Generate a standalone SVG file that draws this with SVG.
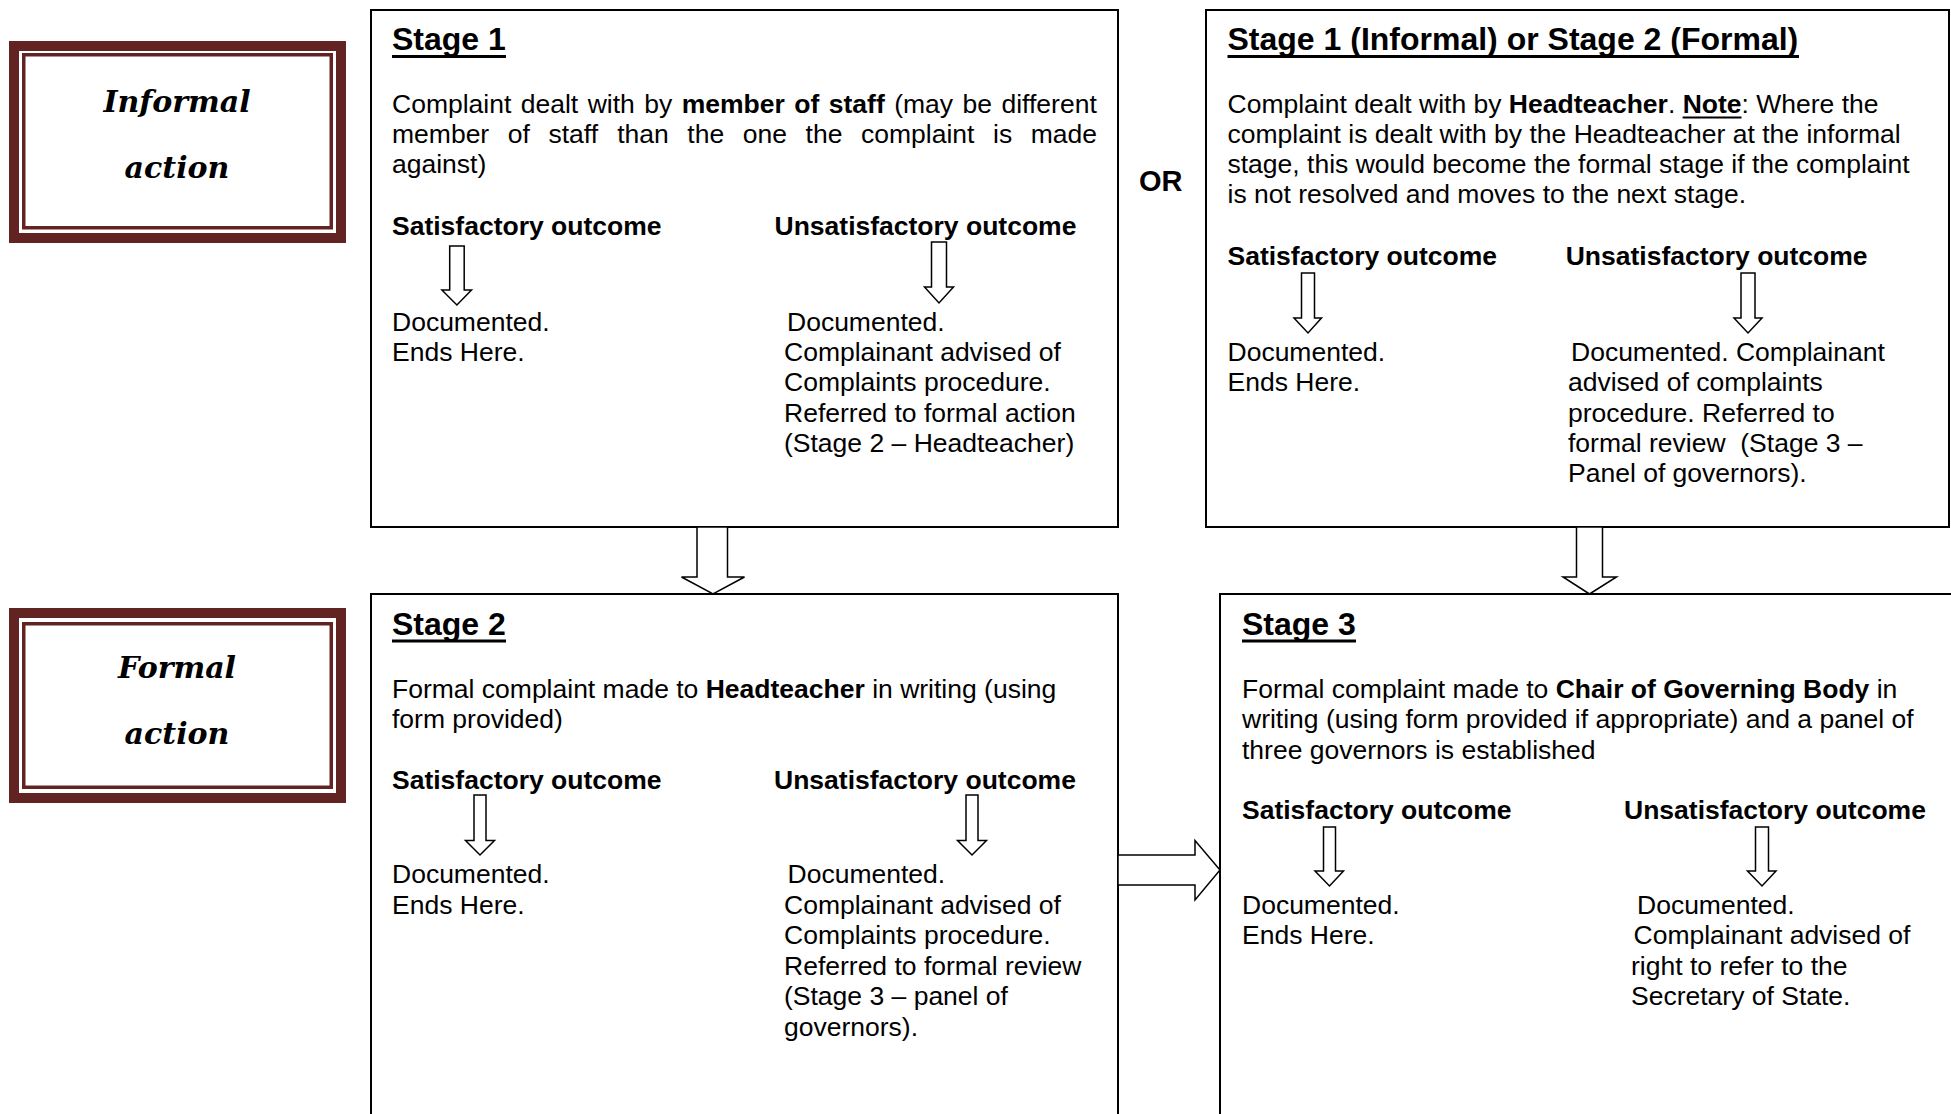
<svg xmlns="http://www.w3.org/2000/svg" width="1951" height="1114" viewBox="0 0 1951 1114">
<style>
.bg{fill:#fff}
.box{fill:#fff;stroke:#000;stroke-width:2}
.t{font-family:"Liberation Sans",Arial,sans-serif;font-size:26.5px;fill:#000}
.b{font-weight:bold}
.title{font-family:"Liberation Sans",Arial,sans-serif;font-size:32px;font-weight:bold;fill:#000}
.ul{stroke:#000;stroke-width:3}
.ul2{stroke:#000;stroke-width:2}
.arr{fill:#fff;stroke:#000;stroke-width:1.5;stroke-linejoin:miter}
.fo{fill:#fff;stroke:#622423;stroke-width:10}
.fi{fill:none;stroke:#622423;stroke-width:3.5}
.lbl{font-family:"DejaVu Serif",serif;font-style:italic;font-weight:bold;font-size:30px;text-anchor:middle;fill:#000}
</style>
<rect class="bg" x="0" y="0" width="1951" height="1114"/>

<g id="informal-action">
  <rect class="fo" x="14" y="46" width="327" height="192"/>
  <rect class="fi" x="23.75" y="54.75" width="307.5" height="173"/>
  <text class="lbl" x="177" y="112">Informal</text>
  <text class="lbl" x="177" y="178">action</text>
</g>

<g id="formal-action">
  <rect class="fo" x="14" y="613" width="327" height="185"/>
  <rect class="fi" x="23.75" y="623.75" width="307.5" height="163.5"/>
  <text class="lbl" x="177" y="678">Formal</text>
  <text class="lbl" x="177" y="744">action</text>
</g>

<g id="or-label">
  <text class="t b" x="1139" y="190.5" style="font-size:29px">OR</text>
</g>

<g id="stage1">
  <rect class="box" x="371" y="10" width="747" height="517"/>
  <text class="title" x="392" y="50">Stage 1</text>
  <line class="ul" x1="392" y1="56.5" x2="506" y2="56.5"/>
  <text class="t" x="392" y="113" style="word-spacing:2.1px">Complaint dealt with by <tspan class="b">member of staff</tspan> (may be different</text>
  <text class="t" y="143"><tspan x="392">member</tspan><tspan x="507.8">of</tspan><tspan x="548.5">staff</tspan><tspan x="617.2">than</tspan><tspan x="687.3">the</tspan><tspan x="742.8">one</tspan><tspan x="805.6">the</tspan><tspan x="861">complaint</tspan><tspan x="993">is</tspan><tspan x="1030.7">made</tspan></text>
  <text class="t" x="392" y="173">against)</text>
  <text class="t b" x="392" y="235">Satisfactory outcome</text>
  <text class="t b" x="774.5" y="235">Unsatisfactory outcome</text>
  <polygon class="arr" points="449.7,246 464.2,246 464.2,290 471.5,290 456.9,305 441.9,290 449.7,290"/>
  <polygon class="arr" points="931.5,242 946.5,242 946.5,287 953.5,287 939,303 924.5,287 931.5,287"/>
  <text class="t" x="392" y="331">Documented.</text>
  <text class="t" x="392" y="361">Ends Here.</text>
  <text class="t" x="787" y="331">Documented.</text>
  <text class="t" x="784" y="361">Complainant advised of</text>
  <text class="t" x="784" y="391">Complaints procedure.</text>
  <text class="t" x="784" y="421.5">Referred to formal action</text>
  <text class="t" x="784" y="452">(Stage 2 – Headteacher)</text>
</g>

<g id="stage1-or-2">
  <rect class="box" x="1206" y="10" width="743" height="517"/>
  <text class="title" x="1227.5" y="50">Stage 1 (Informal) or Stage 2 (Formal)</text>
  <line class="ul" x1="1227.5" y1="56.5" x2="1799" y2="56.5"/>
  <text class="t" x="1227.5" y="113">Complaint dealt with by <tspan class="b">Headteacher</tspan>. <tspan class="b">Note</tspan>: Where the</text>
  <line class="ul2" x1="1682.6" y1="117.5" x2="1741.5" y2="117.5"/>
  <text class="t" x="1227.5" y="143">complaint is dealt with by the Headteacher at the informal</text>
  <text class="t" x="1227.5" y="173">stage, this would become the formal stage if the complaint</text>
  <text class="t" x="1227.5" y="203">is not resolved and moves to the next stage.</text>
  <text class="t b" x="1227.5" y="265">Satisfactory outcome</text>
  <text class="t b" x="1565.7" y="265">Unsatisfactory outcome</text>
  <polygon class="arr" points="1301.5,273 1314.5,273 1314.5,318 1321.5,318 1308,333 1294,318 1301.5,318"/>
  <polygon class="arr" points="1741,273 1755,273 1755,318 1762,318 1748,333 1734,318 1741,318"/>
  <text class="t" x="1227.5" y="361">Documented.</text>
  <text class="t" x="1227.5" y="391">Ends Here.</text>
  <text class="t" x="1571" y="361">Documented. Complainant</text>
  <text class="t" x="1568" y="391">advised of complaints</text>
  <text class="t" x="1568" y="421.5">procedure. Referred to</text>
  <text class="t" x="1568" y="452" xml:space="preserve">formal review  (Stage 3 –</text>
  <text class="t" x="1568" y="482">Panel of governors).</text>
</g>

<g id="stage2">
  <rect class="box" x="371" y="594" width="747" height="540"/>
  <text class="title" x="392" y="634.5">Stage 2</text>
  <line class="ul" x1="392" y1="641" x2="506" y2="641"/>
  <text class="t" x="392" y="697.5">Formal complaint made to <tspan class="b">Headteacher</tspan> in writing (using</text>
  <text class="t" x="392" y="728">form provided)</text>
  <text class="t b" x="392" y="788.5">Satisfactory outcome</text>
  <text class="t b" x="774" y="788.5">Unsatisfactory outcome</text>
  <polygon class="arr" points="474,795 486,795 486,840.5 494.5,840.5 480,855 465.5,840.5 474,840.5"/>
  <polygon class="arr" points="966,795 978,795 978,840.5 986.5,840.5 972,855 957.5,840.5 966,840.5"/>
  <text class="t" x="392" y="883">Documented.</text>
  <text class="t" x="392" y="913.5">Ends Here.</text>
  <text class="t" x="787.6" y="883">Documented.</text>
  <text class="t" x="784" y="913.5">Complainant advised of</text>
  <text class="t" x="784" y="944">Complaints procedure.</text>
  <text class="t" x="784" y="974.5">Referred to formal review</text>
  <text class="t" x="784" y="1005">(Stage 3 – panel of</text>
  <text class="t" x="784" y="1035.5">governors).</text>
</g>

<g id="stage3">
  <rect class="box" x="1220" y="594" width="750" height="540"/>
  <text class="title" x="1242" y="634.5">Stage 3</text>
  <line class="ul" x1="1242" y1="641" x2="1356" y2="641"/>
  <text class="t" x="1242" y="697.5">Formal complaint made to <tspan class="b">Chair of Governing Body</tspan> in</text>
  <text class="t" x="1242" y="728">writing (using form provided if appropriate) and a panel of</text>
  <text class="t" x="1242" y="758.5">three governors is established</text>
  <text class="t b" x="1242" y="818.5">Satisfactory outcome</text>
  <text class="t b" x="1624" y="818.5">Unsatisfactory outcome</text>
  <polygon class="arr" points="1323.5,827 1335.5,827 1335.5,871 1343.5,871 1329.5,886 1315,871 1323.5,871"/>
  <polygon class="arr" points="1755.5,827 1768.5,827 1768.5,871 1776,871 1762,886 1747.5,871 1755.5,871"/>
  <text class="t" x="1242" y="913.5">Documented.</text>
  <text class="t" x="1242" y="944">Ends Here.</text>
  <text class="t" x="1637" y="913.5">Documented.</text>
  <text class="t" x="1633.5" y="944">Complainant advised of</text>
  <text class="t" x="1631" y="974.5">right to refer to the</text>
  <text class="t" x="1631" y="1005">Secretary of State.</text>
</g>

<g id="connectors">
  <polygon class="arr" points="697,527 727.5,527 727.5,577 744.5,577 713,594 681.5,577 697,577"/>
  <polygon class="arr" points="1576.5,527 1602.5,527 1602.5,577 1616.5,577 1589.5,594 1563,577 1576.5,577"/>
  <polygon class="arr" points="1118,855 1195,855 1195,840.5 1220,870 1195,900 1195,885 1118,885"/>
</g>
</svg>
